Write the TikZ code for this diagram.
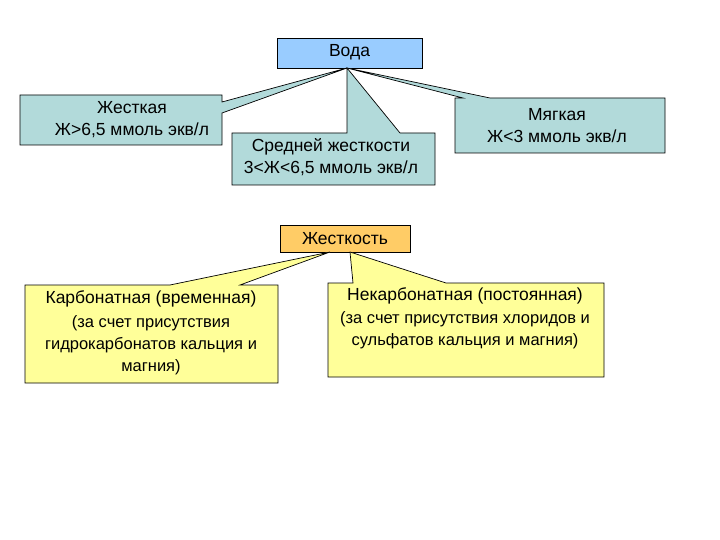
\documentclass[tikz,border=0pt]{standalone}
\usepackage{fontspec}
\setmainfont{Liberation Sans}
\definecolor{blu}{HTML}{99CCFF}
\definecolor{teal}{HTML}{B2DADA}
\definecolor{org}{HTML}{FFCC66}
\definecolor{yel}{HTML}{FFFF99}
\tikzset{co/.style={draw=black,line width=0.7pt,line join=miter},
 txt/.style={align=center,font=\fontsize{17.5}{22}\selectfont,inner sep=0}}
\begin{document}
\begin{tikzpicture}[x=1pt,y=-1pt]
\useasboundingbox (0,0) rectangle (720,540);
% Voda
\draw[co,fill=blu] (277,38) rectangle (422,68);
\node[txt] (voda) at (349.5,52) {Вода};
% Zhestkaya
\draw[co,fill=teal] (20,95) -- (222,95) -- (222,102) -- (347,68) -- (222,113) -- (222,145) -- (20,145) -- cycle;
\node[txt] (hard) at (132,120) {Жесткая\\Ж>6,5 ммоль экв/л};
% middle
\draw[co,fill=teal] (232,133) -- (347,133) -- (347,68) -- (400,133) -- (435,133) -- (435,185) -- (232,185) -- cycle;
\node[txt] (mid) at (331,157) {Средней жесткости\\3<Ж<6,5 ммоль экв/л};
% soft
\draw[co,fill=teal] (455,98) -- (463,98) -- (347,68) -- (490,98) -- (665,98) -- (665,153) -- (455,153) -- cycle;
\node[txt] (soft) at (557,126) {Мягкая\\Ж<3 ммоль экв/л};
% Zhestkost
\draw[co,fill=org] (280,225) rectangle (410,252);
\node[txt] (hd) at (345,239) {Жесткость};
% Karbonatnaya
\draw[co,fill=yel] (25,285) -- (170,285) -- (330,252) -- (240,285) -- (278,285) -- (278,383) -- (25,383) -- cycle;
\node[txt,anchor=north] (karb) at (151,290) {Карбонатная (временная)\\[2pt]{\fontsize{16.5}{19}\selectfont(за счет присутствия}\\{\fontsize{16.5}{19}\selectfont гидрокарбонатов кальция и}\\{\fontsize{16.5}{19}\selectfont магния)}};
% Nekarbonatnaya
\draw[co,fill=yel] (328,283) -- (353,283) -- (350,252) -- (446,283) -- (604,283) -- (604,377) -- (328,377) -- cycle;
\node[txt,anchor=north] (nekarb) at (465,287) {Некарбонатная (постоянная)\\[1pt]{\fontsize{16.5}{19}\selectfont(за счет присутствия хлоридов и}\\{\fontsize{16.5}{19}\selectfont сульфатов кальция и магния)}};
\end{tikzpicture}
\end{document}
